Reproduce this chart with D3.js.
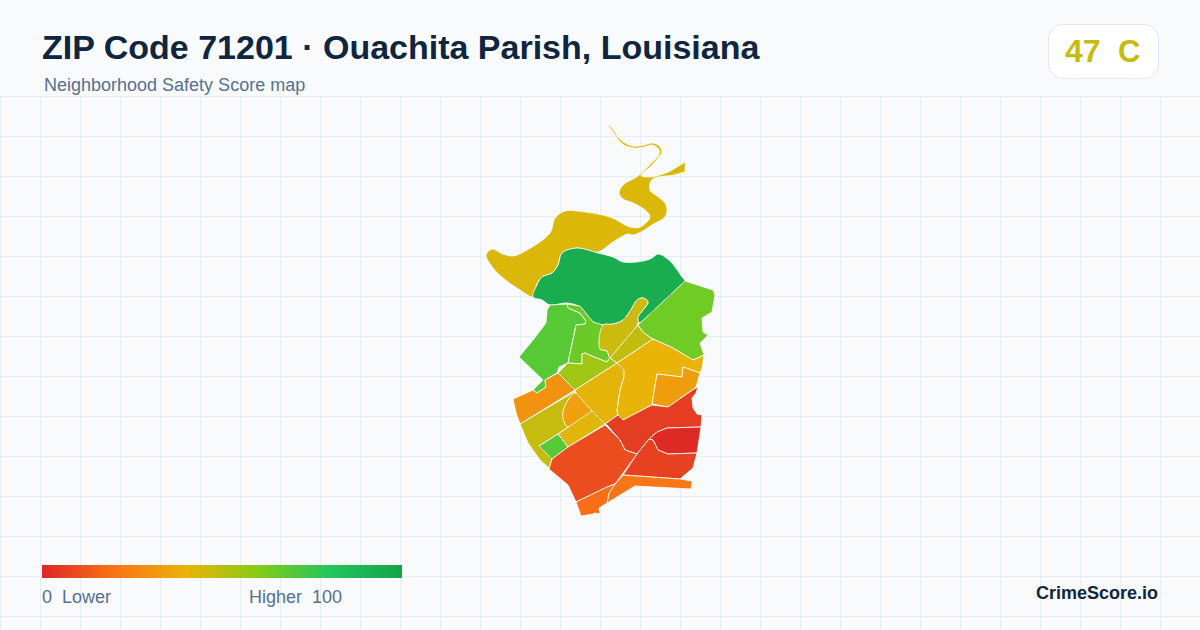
<!DOCTYPE html>
<html>
<head>
<meta charset="utf-8">
<title>ZIP Code 71201</title>
<script src="https://cdn.jsdelivr.net/npm/d3@7"></script>
<style>
    html, body { margin: 0; padding: 0; background: #f8fafc; }
    svg { display: block; }
    text { font-family: "Liberation Sans", Arial, sans-serif; white-space: pre; }
</style>
</head>
<body>
<div id="chart"></div>
<script>
// tract outlines in map units
var river = [[139,15],[143,19],[148,27],[155,33],[163,36],[172,35.5],[182,33],[188,35],[192,41],[189,47],[180,57],[171,65.5],[180,67],[197,62.5],[207,57],[214,52.6],[215,52],[215.2,53],[215,61],[215,62],[213,62.4],[204,65],[182,69.5],[180,80],[187,86],[195,93],[197,100],[195,107],[182,115],[173,121],[163,125],[158,124],[143,132],[128,142],[117,140],[107,138],[92,143],[88,155],[82,163],[72,167],[66,177],[68,182],[63,187],[50,180],[33,168],[23,158],[16,145],[22,139],[33,144],[43,146],[57,140],[80,123],[85,108],[95,101],[107,101],[140,107],[160,117],[170,117],[180,107],[175,100],[163,93],[153,89],[149,83],[153,75],[168,66],[179,55.5],[188,46],[189.5,41],[186,36.5],[182,35],[172,37.5],[163,38],[154,35],[147,28],[142,20],[138.5,15.5]];
var northGreen = [[66,177],[72,167],[82,163],[88,155],[92,143],[107,138],[128,143],[143,147],[153,152],[173,151],[182,148],[188,144],[200,151],[212,167],[215,171],[212,174],[168,213],[167.7,207],[173,200],[178,192],[173,188],[167,190],[162,198],[153,210],[143,214],[133,215],[123,212],[110,197],[97,193],[80,195],[72,190],[63,187]];
var westGreen = [[80,195],[97,194],[98,198],[110,203],[116,211],[115,214],[106,215],[98,253],[89,257],[87,263],[75,270],[76,277],[67,283],[63,280],[73,270],[49,247],[63,230],[76,213],[77,200]];
var innerGreen = [[97,194],[110,196],[123,212],[133,215],[130,239],[137,241],[140,248],[137,252],[124,247],[115,243],[112,244],[112,254],[98,253],[106,215],[115,214],[116,211],[110,203],[98,198]];
var finger = [[133,215],[143,214],[153,210],[162,198],[167,190],[173,188],[178,192],[173,200],[168,207],[168,213],[140,248],[137,241],[130,239]];
var triangle = [[168,215],[173,222],[183,229],[147,253],[140,248]];
var eastLime = [[215,171],[243,180],[245,185],[242,202],[232,208],[233,222],[238,225],[230,233],[234,245],[223,250],[203,238],[183,229],[173,222],[168,215]];
var limeBand = [[98,253],[112,254],[112,244],[115,243],[124,247],[137,252],[140,248],[147,253],[105,280],[88,263]];
var westOrange = [[43,289],[63,280],[67,283],[76,277],[75,270],[88,263],[105,280],[50,314],[46,303]];
var olive = [[50,314],[104,282],[106,283],[98,290],[93,302],[94,312],[98,317],[88,324],[69,336],[82,349],[79,358],[70,350],[58,333]];
var oval = [[106,283],[122,301],[98,317],[94,312],[93,302],[98,290]];
var strip = [[122,301],[135,314],[98,337],[88,324]];
var square = [[69,336],[88,324],[98,337],[82,349]];
var centerWest = [[105,280],[147,253],[154,260],[154,267],[150,280],[147,301],[148,305],[135,314],[122,301],[106,283]];
var centerEast = [[147,253],[183,229],[203,238],[223,250],[234,245],[232,258],[230,263],[213,257],[212,267],[187,264],[182,295],[153,310],[148,305],[147,301],[150,280],[154,267],[154,260]];
var eastOrange = [[187,264],[212,267],[213,257],[230,263],[226,277],[222,280],[198,297],[182,294]];
var upperRed = [[135,314],[148,305],[153,310],[182,295],[198,297],[224,279],[228,277],[226,283],[222,288],[223,298],[227,304],[232,305],[231,317],[197,318],[187,322],[179,329],[167,344],[155,340],[150,330],[137,315]];
var darkRed = [[231,317],[227,343],[198,344],[188,340],[183,330],[179,329],[187,322],[197,318]];
var lowerRed = [[179,329],[183,330],[188,340],[198,344],[227,343],[223,358],[210,369],[153,365],[167,344]];
var southStrip = [[153,365],[210,369],[222,371],[221,379],[165,376],[137,393],[139,383],[145,374]];
var bigRed = [[135,315],[150,330],[155,340],[167,344],[145,374],[137,377],[106,392],[98,375],[79,359],[82,349],[98,337]];
var southOrange = [[106,392],[137,377],[145,374],[139,383],[137,393],[129,398],[130,404],[125,403],[123,404],[111,406]];

var tractShapes = [river, northGreen, westGreen, innerGreen, finger, triangle, eastLime, limeBand, westOrange, olive, oval, strip, square, centerWest, centerEast, eastOrange, upperRed, darkRed, lowerRed, southStrip, bigRed, southOrange];
var tractScores = [43, 94, 69, 65, 46, 48, 64, 55, 30, 47, 34, 42, 69, 41, 40, 33, 6, 1, 7, 21, 10, 19];
var roundedShapes = [river, northGreen, finger, oval];

var scoreStops = [0, 20, 40, 60, 80, 100];
var stopColors = ["#dc2626", "#f97316", "#eab308", "#84cc16", "#22c55e", "#16a34a"];

var titleText = "ZIP Code 71201 · Ouachita Parish, Louisiana";
var subtitleText = "Neighborhood Safety Score map";
var zipScore = 47;
var zipGrade = "C";
var legendLow = "0  Lower";
var legendHigh = "Higher  100";
var brandText = "CrimeScore.io";

var width = 1200, height = 630;

var color = d3.scaleLinear().domain(scoreStops).range(stopColors);
var mapX = d3.scaleLinear().domain([0, 260]).range([470, 730]);
var mapY = d3.scaleLinear().domain([0, 410]).range([110, 520]);
var legendX = d3.scaleLinear().domain([0, 100]).range([42, 402]);

var svg = d3.select("#chart").append("svg")
    .attr("width", width)
    .attr("height", height);

function drawGrid(){
    var g = svg.append("g").attr("stroke", "#e6eef3").attr("stroke-width", 1);
    g.selectAll("line.v")
        .data(d3.range(0.5, width, 40))
        .enter().append("line")
        .attr("class", "v")
        .attr("x1", d => d).attr("x2", d => d)
        .attr("y1", 96).attr("y2", height);
    g.selectAll("line.h")
        .data(d3.range(96.5, height, 40))
        .enter().append("line")
        .attr("class", "h")
        .attr("x1", 0).attr("x2", width)
        .attr("y1", d => d).attr("y2", d => d);
}

function drawMap(){
    var straight = d3.line()
        .x(d => mapX(d[0]))
        .y(d => mapY(d[1]))
        .curve(d3.curveLinearClosed);
    var rounded = d3.line()
        .x(d => mapX(d[0]))
        .y(d => mapY(d[1]))
        .curve(d3.curveCatmullRomClosed.alpha(0.5));

    svg.append("g").selectAll("path")
        .data(tractShapes)
        .enter().append("path")
        .attr("d", d => roundedShapes.includes(d) ? rounded(d) : straight(d))
        .attr("fill", (d, i) => color(tractScores[i]))
        .attr("stroke", "#ffffff")
        .attr("stroke-width", 0.8)
        .attr("stroke-linejoin", "round");
}

function drawLegend(){
    var grad = svg.append("defs").append("linearGradient")
        .attr("id", "legendGradient");
    grad.selectAll("stop")
        .data(scoreStops)
        .enter().append("stop")
        .attr("offset", d => d + "%")
        .attr("stop-color", d => color(d));

    svg.append("rect")
        .attr("x", legendX(0))
        .attr("y", 565)
        .attr("width", legendX(100) - legendX(0))
        .attr("height", 13)
        .attr("fill", "url(#legendGradient)");

    svg.append("text").attr("x", 42).attr("y", 603)
        .attr("font-size", 18).attr("fill", "#56708f").text(legendLow);
    svg.append("text").attr("x", 249).attr("y", 603)
        .attr("font-size", 18).attr("fill", "#56708f").text(legendHigh);
}

function drawHeader(){
    svg.append("text").attr("x", 42).attr("y", 59)
        .attr("font-size", 34).attr("font-weight", 700).attr("fill", "#0f2540")
        .text(titleText);
    svg.append("text").attr("x", 44).attr("y", 91)
        .attr("font-size", 18).attr("fill", "#56708f")
        .text(subtitleText);

    svg.append("rect")
        .attr("x", 1048.5).attr("y", 24.5)
        .attr("width", 110).attr("height", 54)
        .attr("rx", 14)
        .attr("fill", "#ffffff")
        .attr("stroke", "#e2e8f0");
    svg.append("text").attr("x", 1065).attr("y", 62)
        .attr("font-size", 32).attr("font-weight", 700)
        .attr("fill", color(zipScore))
        .text(zipScore);
    svg.append("text").attr("x", 1118).attr("y", 62)
        .attr("font-size", 31).attr("font-weight", 700)
        .attr("fill", color(zipScore))
        .text(zipGrade);

    svg.append("text").attr("x", 1158).attr("y", 599)
        .attr("text-anchor", "end")
        .attr("font-size", 18).attr("font-weight", 700).attr("fill", "#0f2540")
        .text(brandText);
}

drawGrid();
drawMap();
drawLegend();
drawHeader();
</script>
</body>
</html>
